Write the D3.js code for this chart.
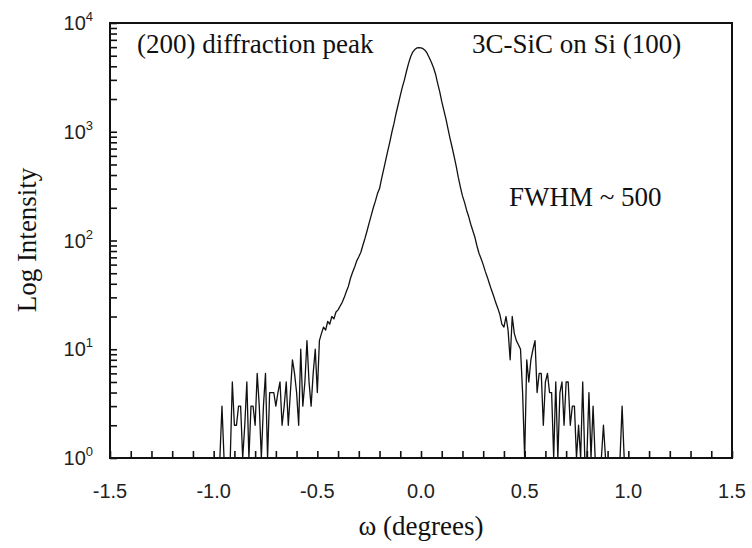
<!DOCTYPE html>
<html>
<head>
<meta charset="utf-8">
<script src="https://cdn.jsdelivr.net/npm/d3@7"></script>
<style>
  html, body { margin: 0; padding: 0; background: #fff; }
  svg { display: block; }
</style>
</head>
<body>
<svg id="chart" width="752" height="548"></svg>
<script>
// Rocking-curve scan: omega start/step (degrees) and counts at each step
const omegaStart = -1.0;
const omegaStep = 0.01;
const counts = [
  // -1.00 .. -0.51
  0, 0, 0, 0, 3, 0, 0, 0, 0, 5,
  2, 2, 3, 3, 0, 2, 5, 0, 3, 3,
  2, 6, 3, 0, 3, 6, 0, 4, 4, 4,
  3, 4, 5, 2, 3, 5, 2, 4, 8, 6,
  4, 2, 10, 3, 5, 12, 5, 3, 6, 10,
  // -0.50 .. -0.01
  4, 12, 14, 16, 15, 18, 17, 20, 19, 22,
  23, 25, 27, 30, 34, 38, 45, 51, 57, 65,
  71, 78, 91, 105, 123, 145, 170, 200, 230, 270,
  300, 370, 450, 550, 670, 810, 1000, 1200, 1480, 1780,
  2150, 2570, 3000, 3600, 4250, 4900, 5400, 5700, 5900, 5950,
  // 0.00
  5900,
  // 0.01 .. 0.50
  5800, 5600, 5250, 4800, 4350, 3900, 3400, 2800, 2350, 1900,
  1580, 1320, 1070, 870, 720, 590, 480, 380, 310, 257,
  224, 190, 166, 141, 123, 107, 89, 76, 68, 60,
  52, 46, 40, 35, 31, 27, 24, 21, 17, 16,
  20, 15, 8, 20, 14, 12, 11, 10, 4, 0,
  // 0.51 .. 1.00
  8, 5, 8, 10, 12, 4, 6, 6, 2, 5,
  6, 4, 4, 0, 5, 0, 4, 5, 2, 5,
  5, 2, 3, 3, 0, 2, 0, 5, 0, 0,
  4, 0, 3, 0, 0, 0, 0, 2, 0, 0,
  0, 0, 0, 0, 0, 0, 3, 0, 0, 0
];

const xTicksMajor = [-1.5, -1.0, -0.5, 0.0, 0.5, 1.0, 1.5];
const yDecades = [1, 10, 100, 1000, 10000];
const yExponents = ["0", "1", "2", "3", "4"];

const labels = {
  x: "ω (degrees)",
  y: "Log Intensity",
  peak: "(200) diffraction peak",
  sample: "3C-SiC on Si (100)",
  fwhm: "FWHM ~ 500"
};

const svg = d3.select("#chart");
const m = { left: 110, right: 732, top: 23, bottom: 458 };

const x = d3.scaleLinear().domain([-1.5, 1.5]).range([m.left, m.right]);
const y = d3.scaleLog().domain([1, 10000]).range([m.bottom, m.top]);

const data = counts.map((c, i) => ({ w: omegaStart + i * omegaStep, c }));

// minor ticks every 0.1 on x, 2..9 per decade on y
const xMinor = d3.range(-15, 16).map(k => k / 10);
const yMinor = [];
yDecades.slice(0, -1).forEach(d => { for (let k = 1; k < 10; k++) yMinor.push(d * k); });
yMinor.push(10000);

const tickLen = 7;

// clip for the trace
svg.append("clipPath").attr("id", "plotclip")
  .append("rect")
  .attr("x", m.left).attr("y", m.top)
  .attr("width", m.right - m.left).attr("height", m.bottom - m.top);

// trace (zero counts sit on the bottom axis)
const line = d3.line()
  .x(d => x(d.w))
  .y(d => y(Math.max(d.c, 1)));

svg.append("path")
  .datum(data)
  .attr("clip-path", "url(#plotclip)")
  .attr("d", line)
  .attr("fill", "none")
  .attr("stroke", "#111")
  .attr("stroke-width", 1.3)
  .attr("stroke-linejoin", "round");

// bottom axis ticks (inward)
const xAxis = d3.axisBottom(x).tickValues(xMinor).tickSize(-tickLen).tickFormat("");
svg.append("g")
  .attr("transform", `translate(0,${m.bottom})`)
  .call(xAxis)
  .call(g => g.select(".domain").remove())
  .call(g => g.selectAll(".tick line").attr("stroke", "#111").attr("stroke-width", 1.6));

// left axis ticks (inward)
const yAxis = d3.axisLeft(y).tickValues(yMinor).tickSize(-tickLen).tickFormat("");
svg.append("g")
  .attr("transform", `translate(${m.left},0)`)
  .call(yAxis)
  .call(g => g.select(".domain").remove())
  .call(g => g.selectAll(".tick line").attr("stroke", "#111").attr("stroke-width", 1.6));

// frame
svg.append("rect")
  .attr("x", m.left).attr("y", m.top)
  .attr("width", m.right - m.left).attr("height", m.bottom - m.top)
  .attr("fill", "none")
  .attr("stroke", "#111")
  .attr("stroke-width", 2);

// x tick labels
svg.append("g")
  .selectAll("text")
  .data(xTicksMajor)
  .join("text")
  .attr("x", d => x(d))
  .attr("y", 498)
  .attr("text-anchor", "middle")
  .attr("font-family", "Liberation Sans, Arial, sans-serif")
  .attr("font-size", 20)
  .attr("fill", "#222")
  .text(d => d.toFixed(1));

// y tick labels as powers of ten
const yl = svg.append("g")
  .selectAll("text")
  .data(yDecades)
  .join("text")
  .attr("x", 93)
  .attr("y", d => y(d) + 7)
  .attr("text-anchor", "end")
  .attr("font-family", "Liberation Sans, Arial, sans-serif")
  .attr("font-size", 20)
  .attr("fill", "#222");
yl.append("tspan").text("10");
yl.append("tspan")
  .attr("dy", -9)
  .attr("font-size", 13)
  .text((d, i) => yExponents[i]);

// axis titles
svg.append("text")
  .attr("x", (m.left + m.right) / 2)
  .attr("y", 535)
  .attr("text-anchor", "middle")
  .attr("font-family", "Liberation Serif, Times New Roman, serif")
  .attr("font-size", 27)
  .attr("fill", "#111")
  .text(labels.x);

svg.append("text")
  .attr("transform", "translate(36,240) rotate(-90)")
  .attr("text-anchor", "middle")
  .attr("font-family", "Liberation Serif, Times New Roman, serif")
  .attr("font-size", 27)
  .attr("fill", "#111")
  .text(labels.y);

// annotations
const annot = [
  { t: labels.peak, x: 137, y: 53 },
  { t: labels.sample, x: 472, y: 53 },
  { t: labels.fwhm, x: 509, y: 206 }
];
svg.append("g")
  .selectAll("text")
  .data(annot)
  .join("text")
  .attr("x", d => d.x)
  .attr("y", d => d.y)
  .attr("font-family", "Liberation Serif, Times New Roman, serif")
  .attr("font-size", 27)
  .attr("fill", "#111")
  .text(d => d.t);
</script>
</body>
</html>
